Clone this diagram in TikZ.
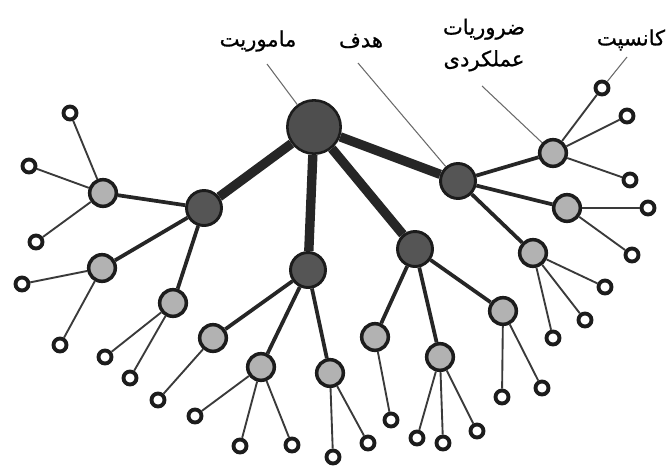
\documentclass[tikz,border=0pt]{standalone}
\usepackage{fontspec}
\newfontfamily\farsifont[Script=Arabic,FakeBold=0.8]{DejaVu Sans}
\TeXXeTstate=1
\usepackage{xcolor}
\definecolor{HubFill}{HTML}{4E4E4E}
\definecolor{GoalFill}{HTML}{555555}
\definecolor{ReqFill}{HTML}{B2B2B2}
\definecolor{RingDark}{HTML}{1C1C1C}
\definecolor{EdgeDark}{HTML}{262626}
\definecolor{TwigGray}{HTML}{3A3A3A}
\definecolor{PointerGray}{HTML}{6A6A6A}
\usepackage{tikz}

\begin{document}
\begin{tikzpicture}[x=0.03cm, y=-0.03cm,
  hub/.style={circle, draw=RingDark, line width=2.2pt, fill=HubFill,
              inner sep=0pt, minimum size=1.6cm},
  goal/.style={circle, draw=RingDark, line width=2.5pt, fill=GoalFill,
               inner sep=0pt, minimum size=1.05cm},
  req/.style={circle, draw=RingDark, line width=3pt, fill=ReqFill,
              inner sep=0pt, minimum size=0.8cm},
  con/.style={circle, draw=RingDark, line width=3.3pt, fill=white,
              inner sep=0pt, minimum size=0.39cm},
  trunk/.style={draw=EdgeDark, line width=8pt},
  branch/.style={draw=EdgeDark, line width=3.2pt},
  twig/.style={draw=TwigGray, line width=1.6pt},
  pointer/.style={draw=PointerGray, line width=0.9pt},
  lbl/.style={font=\farsifont\fontsize{18}{27}\selectfont, align=center,
              inner sep=0pt},
]
\useasboundingbox (0,0) rectangle (667,471);

% labels on top
\node[lbl] (lMission) at (258,41) {\beginR ماموریت\endR};
\node[lbl] (lGoal)    at (361,41) {\beginR هدف\endR};
\node[lbl] (lReq)     at (484,45) {\beginR ضروریات\endR\\\beginR عملکردی\endR};
\node[lbl] (lCon)     at (631,40) {\beginR کانسپت\endR};

% root and goals
\node[hub] (root) at (314,127) {};
\foreach \g/\x/\y in {gA/204/208, gB/308/270, gC/415/249, gD/458/181} {
  \node[goal] (\g) at (\x,\y) {};
  \draw[trunk] (root) -- (\g);
}

% requirements
\foreach \g/\r/\x/\y in {gA/rA1/103/193, gA/rA2/102/268, gA/rA3/173/303,
                         gB/rB1/213/338, gB/rB2/261/367, gB/rB3/330/373,
                         gC/rC1/375/337, gC/rC2/440/357, gC/rC3/503/311,
                         gD/rD1/553/153, gD/rD2/567/208, gD/rD3/533/253} {
  \node[req] (\r) at (\x,\y) {};
  \draw[branch] (\g) -- (\r);
}

% concepts
\foreach \r/\n/\x/\y in {rA1/1/70/113, rA1/2/29/166, rA1/3/36/242,
                         rA2/1/22/284, rA2/2/60/345,
                         rA3/1/105/357, rA3/2/130/378,
                         rB1/1/158/400,
                         rB2/1/195/416, rB2/2/240/446, rB2/3/292/445,
                         rB3/1/333/457, rB3/2/368/443,
                         rC1/1/391/420,
                         rC2/1/417/438, rC2/2/443/443, rC2/3/477/431,
                         rC3/1/502/397, rC3/2/542/388,
                         rD1/1/602/88, rD1/2/627/116, rD1/3/630/180,
                         rD2/1/648/208, rD2/2/632/255,
                         rD3/1/605/287, rD3/2/585/320, rD3/3/553/338} {
  \node[con] (\r-\n) at (\x,\y) {};
  \draw[twig] (\r) -- (\r-\n);
}

% pointer lines from the labels
\coordinate (pMission) at (267,64);
\coordinate (pGoal)    at (358,63);
\coordinate (pReq)     at (482,86);
\coordinate (pCon)     at (627,57);
\draw[pointer] (pMission) -- (root);
\draw[pointer] (pGoal) -- (gD);
\draw[pointer] (pReq) -- (rD1);
\draw[pointer] (pCon) -- (rD1-1);
\end{tikzpicture}
\end{document}
